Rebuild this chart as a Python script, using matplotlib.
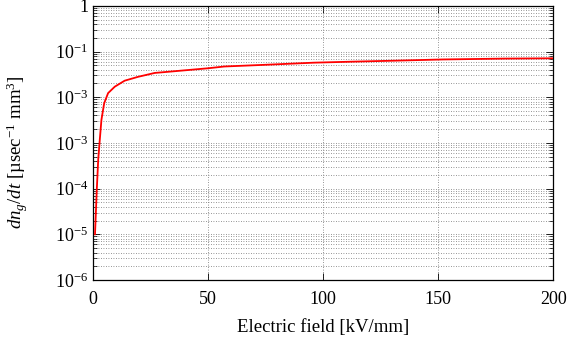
import numpy as np
import matplotlib
matplotlib.use("Agg")
import matplotlib.pyplot as plt
from matplotlib.ticker import FixedLocator, LogLocator, NullFormatter

plt.rcParams['font.family'] = ['Liberation Serif', 'DejaVu Serif']
plt.rcParams['mathtext.fontset'] = 'custom'
plt.rcParams['mathtext.rm'] = 'Liberation Serif'
plt.rcParams['mathtext.it'] = 'Liberation Serif:italic'

# values
field = [0.8, 1.6, 2.2, 2.9, 3.6, 4.8, 6.5, 9.4, 13.7, 19.6, 26.8, 32.6, 50, 57, 74,
         96, 113, 131, 152, 179, 200]
rate = [1e-5, 1e-4, 4.3e-4, 1.2e-3, 3.2e-3, 7.4e-3, 0.0123, 0.017, 0.023, 0.028, 0.034,
        0.036, 0.043, 0.047, 0.051, 0.057, 0.060, 0.063, 0.067, 0.070, 0.071]

ytick_vals = [1, 1e-1, 1e-2, 1e-3, 1e-4, 1e-5, 1e-6]
ytick_labels = ['1', r'10$^{\mathregular{-1}}$', r'10$^{\mathregular{-3}}$',
                r'10$^{\mathregular{-3}}$', r'10$^{\mathregular{-4}}$',
                r'10$^{\mathregular{-5}}$', r'10$^{\mathregular{-6}}$']
xtick_vals = [0, 50, 100, 150, 200]

fig = plt.figure(figsize=(5.68, 3.52), dpi=100)
ax = fig.add_axes([0.164, 0.2045, 0.81, 0.779])

ax.plot(field, rate, color='red', lw=1.3, zorder=3)

ax.set_yscale('log')
ax.set_xlim(0, 200)
ax.set_ylim(1e-6, 1)
ax.yaxis.set_major_locator(FixedLocator(ytick_vals))
ax.set_yticklabels(ytick_labels)
ax.yaxis.set_minor_locator(LogLocator(base=10, subs=np.arange(2, 10)))
ax.yaxis.set_minor_formatter(NullFormatter())
ax.set_xticks(xtick_vals)

ax.grid(True, which='both', axis='y', color='0.45', ls=(0, (1, 2)), lw=0.6)
ax.grid(True, which='major', axis='x', color='0.45', ls=(0, (1, 2)), lw=0.6)

ax.tick_params(which='both', direction='in', top=True, right=True, labelsize=13)
ax.tick_params(which='major', length=5, width=0.6)
ax.tick_params(which='minor', length=3, width=0.5)
ax.tick_params(axis='x', pad=8)
for s in ax.spines.values():
    s.set_linewidth(0.9)

ax.set_xlabel('Electric field [kV/mm]', fontsize=13.5, labelpad=8)
ax.set_ylabel(r'$dn_g/dt$ [µsec$^{\mathregular{-1}}$ mm$^{\mathregular{3}}$]', fontsize=13.5)
ax.yaxis.set_label_coords(-0.137, 0.465)

fig.savefig('out.png', dpi=100)
